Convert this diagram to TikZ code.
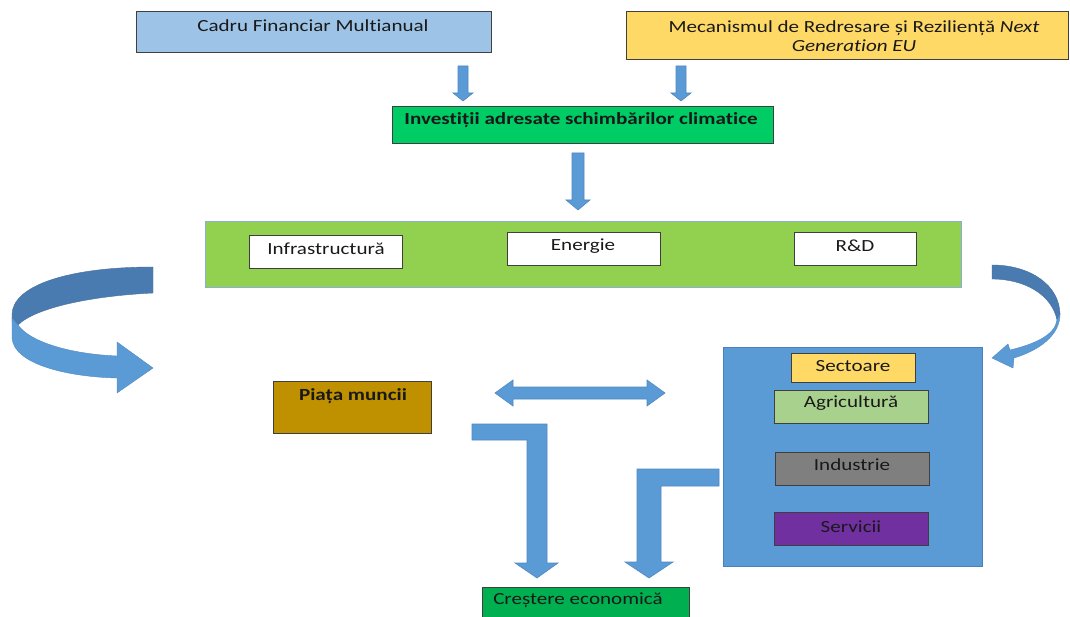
\documentclass[tikz,border=0pt]{standalone}
\usepackage{fontspec}
\usetikzlibrary{calc}
\setmainfont{Carlito}[FakeStretch=1.24,Ligatures={NoCommon,NoRare,NoDiscretionary}]
\definecolor{cadrublue}{HTML}{9DC3E6}
\definecolor{mecyellow}{HTML}{FFD966}
\definecolor{invgreen}{HTML}{00CC66}
\definecolor{bandgreen}{HTML}{92D050}
\definecolor{bandedge}{HTML}{8FAADC}
\definecolor{piatagold}{HTML}{BF9000}
\definecolor{secblue}{HTML}{5B9BD5}
\definecolor{secedge}{HTML}{4A80BD}
\definecolor{agrigreen}{HTML}{A9D18E}
\definecolor{indgray}{HTML}{7F7F7F}
\definecolor{servpurple}{HTML}{7030A0}
\definecolor{crgreen}{HTML}{00B050}
\definecolor{arrblue}{HTML}{5B9BD5}
\definecolor{arredge}{HTML}{5089C4}
\definecolor{arrdark}{HTML}{4A7BB0}
\definecolor{edgegray}{HTML}{3F3F3F}
\begin{document}
\begin{tikzpicture}[x=1pt,y=-1pt,
  box/.style={draw=edgegray,line width=1.3pt,anchor=north west,inner sep=0pt},
  txt/.style={inner sep=0pt,font=\fontsize{17}{20}\selectfont,text=black!90},
  btxt/.style={txt,font=\fontsize{17}{20}\selectfont\bfseries},
  blockarrow/.style={fill=arrblue,draw=arredge,line width=0.6pt,line join=miter},
  curvedark/.style={fill=arrdark,draw=arrdark!90!black,line width=0.4pt},
  curvelight/.style={fill=arrblue,draw=arredge,line width=0.4pt}]
\useasboundingbox (0,0) rectangle (1070,617);
\fill[white] (0,0) rectangle (1070,617);

% top boxes
\node[box,fill=cadrublue,minimum width=355pt,minimum height=41pt] (cadru) at (136,11) {};
\node[txt] (cadrut) at (313,26) {Cadru Financiar Multianual};
\node[box,fill=mecyellow,minimum width=442pt,minimum height=48pt] (mec) at (626,11) {};
\node[txt,align=center] (mect) at (854,36) {Mecanismul de Redresare și Reziliență \textit{Next}\\[-1pt]\textit{Generation EU}};

\node[box,fill=invgreen,minimum width=381pt,minimum height=37pt] (inv) at (392,106) {};
\node[btxt] (invt) at (581,120) {Investiții adresate schimbărilor climatice};

% small arrows
\coordinate (a1) at (463,66); \coordinate (a2) at (681,66); \coordinate (a3) at (578,153);
\draw[blockarrow] ($(a1)+(-5,0)$) -- ($(a1)+(5,0)$) -- ($(a1)+(5,27)$) -- ($(a1)+(10,27)$) -- ($(a1)+(0,35)$) -- ($(a1)+(-10,27)$) -- ($(a1)+(-5,27)$) -- cycle;
\draw[blockarrow] ($(a2)+(-5,0)$) -- ($(a2)+(5,0)$) -- ($(a2)+(5,27)$) -- ($(a2)+(10,27)$) -- ($(a2)+(0,35)$) -- ($(a2)+(-10,27)$) -- ($(a2)+(-5,27)$) -- cycle;
\draw[blockarrow] ($(a3)+(-6,0)$) -- ($(a3)+(6,0)$) -- ($(a3)+(6,47)$) -- ($(a3)+(12,47)$) -- ($(a3)+(0,57)$) -- ($(a3)+(-12,47)$) -- ($(a3)+(-6,47)$) -- cycle;

% green band
\node[draw=bandedge,line width=1.2pt,fill=bandgreen,anchor=north west,inner sep=0pt,minimum width=756pt,minimum height=66pt] (band) at (205,221) {};
\node[box,fill=white,minimum width=153pt,minimum height=33pt] (infra) at (249,235) {};
\node[txt] (infrat) at (326,249) {Infrastructură};
\node[box,fill=white,minimum width=153pt,minimum height=33pt] (ener) at (507,232) {};
\node[txt] (enert) at (583,246) {Energie};
\node[box,fill=white,minimum width=122pt,minimum height=33pt] (rd) at (794,232) {};
\node[txt] (rdt) at (855,246) {R\&D};

% left curved arrow
\draw[curvedark] (153,267) .. controls (70,267) and (12,285) .. (12,315) -- (12,322) -- (18,325) .. controls (35,308) and (90,296) .. (153,293) -- cycle;
\draw[curvelight] (12,318) -- (12,338) .. controls (14,365) and (70,377) .. (117,378) -- (117,393) -- (153,368) -- (117,342) -- (117,356) .. controls (70,354) and (30,342) .. (18,325) -- cycle;

% right curved arrow
\draw[curvedark] (992,265) .. controls (1030,265) and (1060,285) .. (1060,315) -- (1057,320) .. controls (1052,295) and (1025,279) .. (992,279) -- cycle;
\draw[curvelight] (1060,314) .. controls (1060,335) and (1040,350) .. (1014,358) -- (1013,368) -- (992,358) -- (1008,344) -- (1010,350) .. controls (1035,344) and (1055,335) .. (1057,320) -- cycle;

% Piata muncii
\node[box,fill=piatagold,minimum width=158pt,minimum height=52pt] (piata) at (273,381) {};
\node[btxt] (piatat) at (353,396) {Piața muncii};

% double arrow
\coordinate (dl) at (495,393); \coordinate (dr) at (665,393);
\draw[blockarrow] (dl) -- ($(dl)+(18,-13)$) -- ($(dl)+(18,-6)$) -- ($(dr)+(-18,-6)$) -- ($(dr)+(-18,-13)$) -- (dr) -- ($(dr)+(-18,13)$) -- ($(dr)+(-18,6)$) -- ($(dl)+(18,6)$) -- ($(dl)+(18,13)$) -- cycle;

% sectors
\node[draw=secedge,line width=1pt,fill=secblue,anchor=north west,inner sep=0pt,minimum width=259pt,minimum height=219pt] (sect) at (723,347) {};
\node[box,fill=mecyellow,minimum width=124pt,minimum height=29pt] (seclab) at (791,353) {};
\node[txt] (seclabt) at (853,366) {Sectoare};
\node[box,fill=agrigreen,minimum width=154pt,minimum height=33pt] (agri) at (774,390) {};
\node[txt] (agrit) at (851,403) {Agricultură};
\node[box,fill=indgray,minimum width=154pt,minimum height=33pt] (ind) at (775,452) {};
\node[txt] (indt) at (852,465) {Industrie};
\node[box,fill=servpurple,minimum width=154pt,minimum height=33pt] (serv) at (774,512) {};
\node[txt] (servt) at (851,527) {Servicii};

% growth
\node[box,fill=crgreen,minimum width=207pt,minimum height=40pt] (cres) at (482,587) {};
\node[txt] (crest) at (578,600) {Creștere economică};

% elbow arrows
\draw[blockarrow] (472,424) -- (547,424) -- (547,563) -- (558,563) -- (537,578) -- (515,563) -- (527,563) -- (527,440) -- (472,440) -- cycle;
\draw[blockarrow] (719,469) -- (637,469) -- (637,562) -- (625,562) -- (649,578) -- (673,562) -- (661,562) -- (661,486) -- (719,486) -- cycle;
\end{tikzpicture}
\end{document}
